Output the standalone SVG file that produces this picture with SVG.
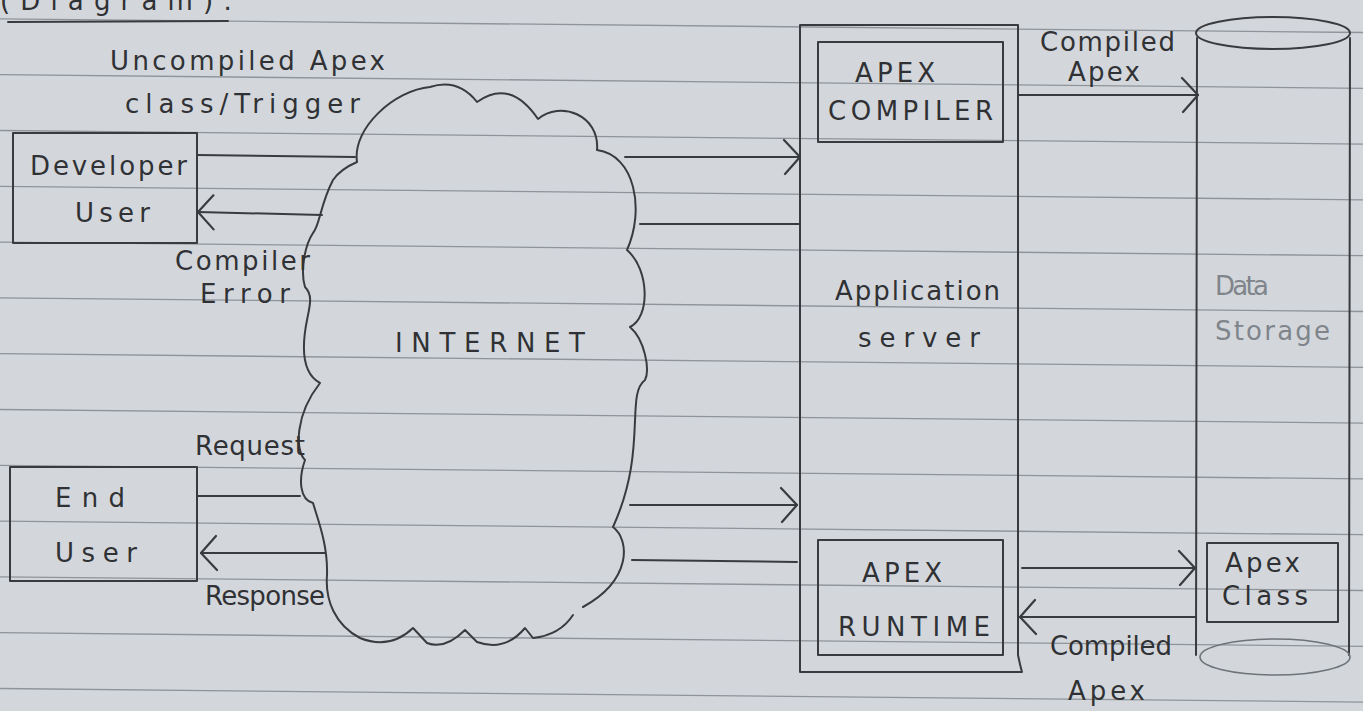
<svg xmlns="http://www.w3.org/2000/svg" width="1363" height="711" viewBox="0 0 1363 711">
<style>
.ink{fill:none;stroke:#3a3b3e;stroke-width:2;stroke-linecap:round;stroke-linejoin:round}
.rule{stroke:#8e949a;stroke-width:1.3}
.t{font-family:"DejaVu Sans","Liberation Sans",sans-serif;fill:#303134;font-size:26px}
.faint{fill:#7f858b}
.faintline{fill:none;stroke:#6e7378;stroke-width:1.6}
</style>
<defs>
<marker id="chev" markerUnits="userSpaceOnUse" viewBox="0 0 20 40" refX="19" refY="20" markerWidth="20" markerHeight="40" orient="auto">
<path d="M3,3 L19,20 L4,37" fill="none" stroke="#3a3b3e" stroke-width="2.2" stroke-linecap="round" stroke-linejoin="round"/>
</marker>
</defs>
<rect width="1363" height="711" fill="#d3d7dc"/>
<g id="paper-lines">
<line class="rule" x1="0" y1="18.9" x2="1363" y2="32.5"/>
<line class="rule" x1="0" y1="74.7" x2="1363" y2="88.3"/>
<line class="rule" x1="0" y1="130.5" x2="1363" y2="144.1"/>
<line class="rule" x1="0" y1="186.3" x2="1363" y2="199.9"/>
<line class="rule" x1="0" y1="242.1" x2="1363" y2="255.7"/>
<line class="rule" x1="0" y1="297.9" x2="1363" y2="311.5"/>
<line class="rule" x1="0" y1="353.7" x2="1363" y2="367.3"/>
<line class="rule" x1="0" y1="409.5" x2="1363" y2="423.1"/>
<line class="rule" x1="0" y1="465.3" x2="1363" y2="478.9"/>
<line class="rule" x1="0" y1="521.1" x2="1363" y2="534.7"/>
<line class="rule" x1="0" y1="576.9" x2="1363" y2="590.5"/>
<line class="rule" x1="0" y1="632.7" x2="1363" y2="646.3"/>
<line class="rule" x1="0" y1="688.5" x2="1363" y2="702.1"/>
</g>
<g id="heading">
<text class="t" x="0" y="10" font-size="30" textLength="232">(Diagram):</text>
<path class="ink" d="M8,22 L228,21" stroke-width="2.6"/>
</g>
<g id="developer-user">
<rect class="ink" x="13" y="133" width="184" height="110"/>
<text class="t" x="30" y="175" textLength="157">Developer</text>
<text class="t" x="75" y="222" textLength="75">User</text>
</g>
<g id="end-user">
<rect class="ink" x="10" y="467" width="187" height="114"/>
<text class="t" x="55" y="507" textLength="70">End</text>
<text class="t" x="55" y="562" textLength="82">User</text>
</g>
<g id="internet">
<path class="ink" d="M357,162 C352,128 395,90 430,87 Q458,78 477,102 Q510,78 538,119 C560,100 600,115 597,150 C635,155 645,210 627,250 C650,270 650,318 630,327 C645,340 650,370 645,380 C625,395 648,450 613,527 C630,540 632,580 583,607 M573,615 Q560,635 533,638 L525,628 Q505,652 477,642 L465,630 Q445,650 427,643 L413,628 Q390,650 360,638 C335,625 325,600 327,575 C328,545 318,520 313,503 C300,500 298,480 305,460 C295,450 295,415 320,383 C305,375 300,355 307,320 C310,305 313,295 305,287 C300,270 305,245 313,233 C320,225 320,205 333,180 C340,170 350,165 357,162"/>
<text class="t" x="395" y="352" font-size="28" textLength="190">INTERNET</text>
</g>
<g id="application-server">
<path class="ink" d="M800,25 L1018,25 L1018,655 Q1020,665 1022,672 L800,672 Z"/>
<text class="t" x="835" y="300" textLength="165">Application</text>
<text class="t" x="858" y="347" textLength="122">server</text>
</g>
<g id="apex-compiler">
<rect class="ink" x="818" y="42" width="185" height="100"/>
<text class="t" x="855" y="82" font-size="23" textLength="80">APEX</text>
<text class="t" x="828" y="120" font-size="23" textLength="165">COMPILER</text>
</g>
<g id="apex-runtime">
<rect class="ink" x="818" y="540" width="185" height="115"/>
<text class="t" x="862" y="582" font-size="23" textLength="80">APEX</text>
<text class="t" x="838" y="636" font-size="23" textLength="152">RUNTIME</text>
</g>
<g id="data-storage">
<ellipse class="ink" cx="1273" cy="33" rx="77" ry="16"/>
<line class="ink" x1="1197" y1="38" x2="1196" y2="655"/>
<line class="ink" x1="1350" y1="38" x2="1349" y2="655" stroke-width="1.6"/>
<ellipse class="faintline" cx="1275" cy="657" rx="75" ry="18"/>
<text class="t faint" x="1215" y="295" font-size="20" textLength="54">Data</text>
<text class="t faint" x="1215" y="340" font-size="21" textLength="115">Storage</text>
</g>
<g id="apex-class">
<rect class="ink" x="1207" y="543" width="131" height="79"/>
<text class="t" x="1225" y="572" font-size="22" textLength="75">Apex</text>
<text class="t" x="1222" y="605" font-size="22" textLength="86">Class</text>
</g>
<g id="connectors">
<line class="ink" x1="197" y1="155" x2="355" y2="157"/>
<line class="ink" x1="625" y1="157" x2="800" y2="157" marker-end="url(#chev)"/>
<line class="ink" x1="800" y1="224" x2="640" y2="224"/>
<line class="ink" x1="322" y1="215" x2="198" y2="212" marker-end="url(#chev)"/>
<line class="ink" x1="197" y1="496" x2="300" y2="496"/>
<line class="ink" x1="325" y1="553" x2="201" y2="553" marker-end="url(#chev)"/>
<line class="ink" x1="630" y1="505" x2="797" y2="505" marker-end="url(#chev)"/>
<line class="ink" x1="797" y1="562" x2="632" y2="560"/>
<line class="ink" x1="1018" y1="95" x2="1198" y2="95" marker-end="url(#chev)"/>
<line class="ink" x1="1022" y1="568" x2="1195" y2="568" marker-end="url(#chev)"/>
<line class="ink" x1="1195" y1="617" x2="1020" y2="617" marker-end="url(#chev)"/>
</g>
<g id="labels">
<text class="t" x="110" y="70" font-size="28" textLength="275">Uncompiled Apex</text>
<text class="t" x="125" y="113" font-size="28" textLength="235">class/Trigger</text>
<text class="t" x="175" y="270" font-size="22" textLength="135">Compiler</text>
<text class="t" x="200" y="303" font-size="22" textLength="90">Error</text>
<text class="t" x="195" y="455" font-size="22" textLength="110">Request</text>
<text class="t" x="205" y="605" font-size="22" textLength="120">Response</text>
<text class="t" x="1040" y="51" font-size="21" textLength="135">Compiled</text>
<text class="t" x="1068" y="81" font-size="21" textLength="72">Apex</text>
<text class="t" x="1050" y="655" font-size="24" textLength="122">Compiled</text>
<text class="t" x="1068" y="700" font-size="24" textLength="77">Apex</text>
</g>
</svg>
